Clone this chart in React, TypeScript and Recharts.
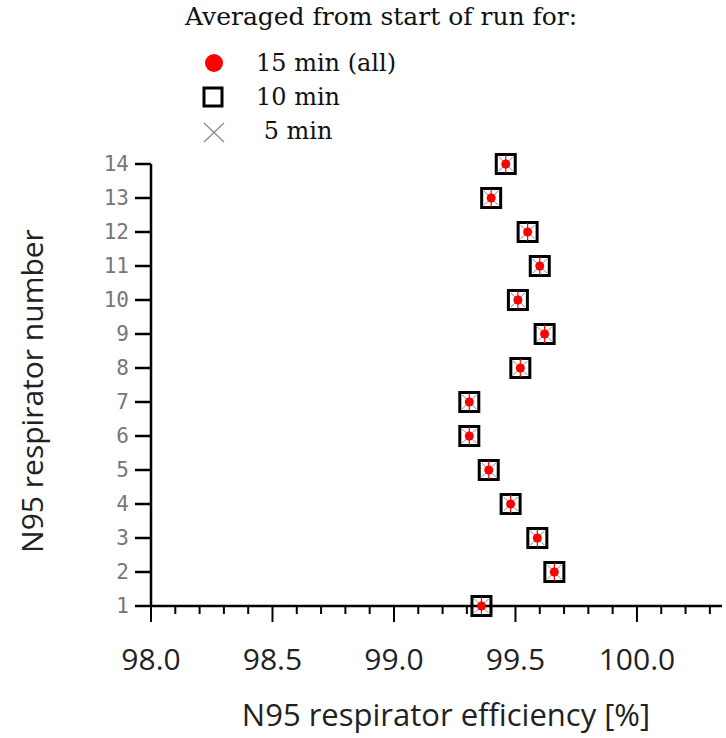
import React from "react";
import { ScatterChart, Scatter, XAxis, YAxis } from "recharts";

const respirators = [1, 2, 3, 4, 5, 6, 7, 8, 9, 10, 11, 12, 13, 14];
const eff15 = [99.36, 99.66, 99.59, 99.48, 99.39, 99.31, 99.31, 99.52, 99.62, 99.51, 99.60, 99.55, 99.40, 99.46];
const eff10 = [99.36, 99.66, 99.59, 99.48, 99.39, 99.31, 99.31, 99.52, 99.62, 99.51, 99.60, 99.55, 99.40, 99.46];
const eff5 = [99.36, 99.66, 99.59, 99.48, 99.39, 99.31, 99.31, 99.52, 99.62, 99.51, 99.60, 99.55, 99.40, 99.46];
const xTicks = [98.0, 98.1, 98.2, 98.3, 98.4, 98.5, 98.6, 98.7, 98.8, 98.9, 99.0, 99.1, 99.2, 99.3, 99.4, 99.5, 99.6, 99.7, 99.8, 99.9, 100.0, 100.1, 100.2, 100.3];
const xMajor = ["98.0", "98.5", "99.0", "99.5", "100.0"];
const yTicks = [1, 2, 3, 4, 5, 6, 7, 8, 9, 10, 11, 12, 13, 14];
const seriesNames = ["15 min (all)", "10 min", " 5 min"];

const d15 = respirators.map((n, i) => ({ x: eff15[i], y: n }));
const d10 = respirators.map((n, i) => ({ x: eff10[i], y: n }));
const d5 = respirators.map((n, i) => ({ x: eff5[i], y: n }));

const SANS = "'Open Sans', 'Noto Sans', sans-serif";
const SERIF = "'DejaVu Serif', 'Liberation Serif', serif";

const Dot = (p: any) => (
  <g>
    <line x1={p.cx} x2={p.cx} y1={p.cy - 9} y2={p.cy + 9} stroke="#ff0000" strokeWidth={1.2} />
    <circle cx={p.cx} cy={p.cy} r={4.5} fill="#ff0000" />
  </g>
);
const Sq = (p: any) => (
  <rect x={p.cx - 9.5} y={p.cy - 9.5} width={19} height={19} fill="none" stroke="#000" strokeWidth={3} />
);
const Cross = (p: any) => (
  <g stroke="#888" strokeWidth={1}>
    <line x1={p.cx - 7} y1={p.cy - 7} x2={p.cx + 7} y2={p.cy + 7} />
    <line x1={p.cx - 7} y1={p.cy + 7} x2={p.cx + 7} y2={p.cy - 7} />
  </g>
);

const XTick = (p: any) => {
  const v = Number(p.payload.value).toFixed(1);
  const major = xMajor.includes(v);
  return (
    <g>
      <line x1={p.x} x2={p.x} y1={p.y} y2={p.y + (major ? 16 : 8)} stroke="#000" strokeWidth={2} />
      {major && (
        <text x={p.x} y={p.y + 64} textAnchor="middle" fontFamily={SANS} fontSize={30} fill="#222">
          {v}
        </text>
      )}
    </g>
  );
};

export default function App() {
  return (
    <div style={{ position: "absolute", left: 0, top: 0, width: 726, height: 738, background: "#fff" }}>
      <ScatterChart width={726} height={738} margin={{ top: 164, right: 4, bottom: 72, left: 91 }}>
        <XAxis
          type="number"
          dataKey="x"
          domain={[98, 100.35]}
          ticks={xTicks}
          interval={0}
          allowDataOverflow
          axisLine={{ stroke: "#000", strokeWidth: 2.5 }}
          tickLine={false}
          tickSize={0}
          tickMargin={0}
          tick={<XTick />}
          height={60}
        />
        <YAxis
          type="number"
          dataKey="y"
          domain={[1, 14]}
          ticks={yTicks}
          interval={0}
          axisLine={{ stroke: "#000", strokeWidth: 2.5 }}
          tickLine={{ stroke: "#000", strokeWidth: 2.5 }}
          tickSize={16}
          tickMargin={6}
          tick={{ fontFamily: "'DejaVu Sans Mono', monospace", fontSize: 21, fill: "#777" }}
          width={60}
        />
        <Scatter name={seriesNames[1]} data={d10} shape={<Sq />} isAnimationActive={false} />
        <Scatter name={seriesNames[2]} data={d5} shape={<Cross />} isAnimationActive={false} />
        <Scatter name={seriesNames[0]} data={d15} shape={<Dot />} isAnimationActive={false} />
      </ScatterChart>

      <div style={{ position: "absolute", left: 185, top: 0, whiteSpace: "nowrap", fontFamily: SERIF, fontSize: 25, lineHeight: "34px", color: "#111" }}>
        Averaged from start of run for:
      </div>
      <svg style={{ position: "absolute", left: 0, top: 0 }} width={300} height={150}>
        <circle cx={214} cy={63} r={9} fill="#ff0000" />
        <rect x={204} y={88} width={18} height={18} fill="none" stroke="#000" strokeWidth={3} />
        <g stroke="#888" strokeWidth={1.2}>
          <line x1={204} y1={123} x2={224} y2={142} />
          <line x1={204} y1={142} x2={224} y2={123} />
        </g>
      </svg>
      {seriesNames.map((s, i) => (
        <div
          key={i}
          style={{ position: "absolute", left: 256, top: 47 + i * 34, whiteSpace: "pre", fontFamily: SERIF, fontSize: 24, lineHeight: "32px", color: "#111" }}
        >
          {s}
        </div>
      ))}

      <div style={{ position: "absolute", left: 0, width: 892, top: 693, textAlign: "center", fontFamily: SANS, fontSize: 31, lineHeight: "42px", color: "#222" }}>
        N95 respirator efficiency [%]
      </div>
      <div
        style={{
          position: "absolute",
          left: 32,
          top: 391,
          transform: "translate(-50%, -50%) rotate(-90deg)",
          whiteSpace: "nowrap",
          fontFamily: SANS,
          fontSize: 30,
          lineHeight: "40px",
          color: "#222",
        }}
      >
        N95 respirator number
      </div>
    </div>
  );
}
